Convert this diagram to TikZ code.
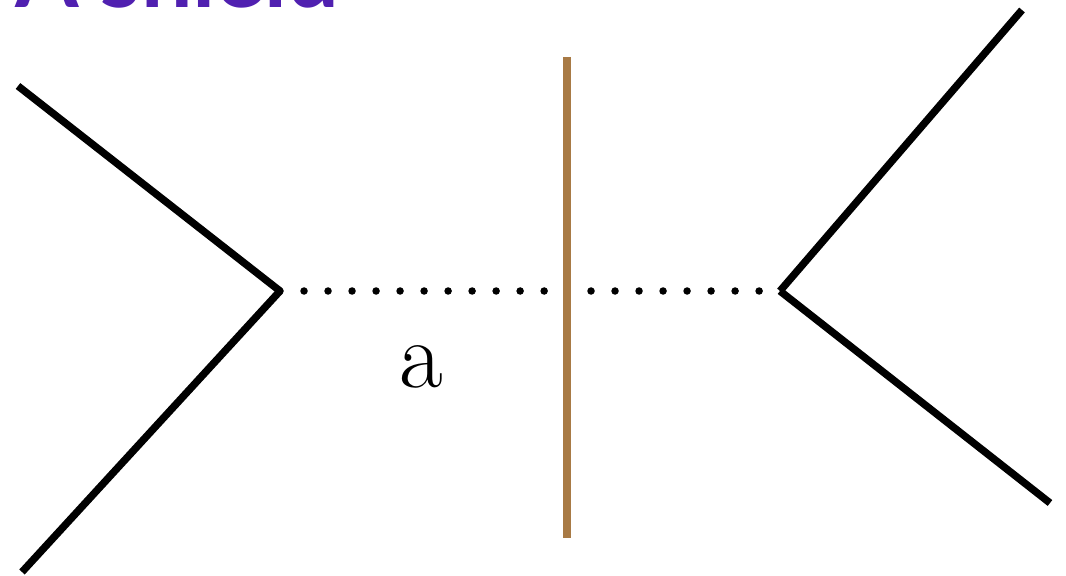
\documentclass[tikz,border=0pt]{standalone}
\usepackage{fontspec}
\newfontfamily\titlefont{Lato}
\begin{document}
\begin{tikzpicture}[x=0.01cm,y=-0.01cm,
  leg/.style={line width=0.074cm, black},
  wall/.style={line width=0.075cm, draw={rgb,255:red,168;green,122;blue,69}},
  dots/.style={line width=0.075cm, line cap=round, dash pattern=on 0pt off 0.24cm}]
\useasboundingbox (0,0) rectangle (1066,576);
\coordinate (L) at (280,291);
\coordinate (R) at (780,291);
\coordinate (LT) at (18,86);
\coordinate (LB) at (22,572);
\coordinate (RT) at (1022,10);
\coordinate (RB) at (1050,503);
\coordinate (WT) at (567,57);
\coordinate (WB) at (567,538);
\coordinate (WM) at (567,291);
\draw[leg] (LT) -- (L);
\draw[leg] (L) -- (LB);
\draw[leg] (RT) -- (R);
\draw[leg] (R) -- (RB);
\draw[dots] (L) -- (WM);
\draw[dots] (WM) -- (R);
\draw[wall] (WT) -- (WB);
\node[anchor=base, font=\fontsize{27}{32}\selectfont, inner sep=0pt] (a) at (421,387) {a};
\node[anchor=base east, text={rgb,255:red,80;green,32;blue,176}, font=\titlefont\bfseries\fontsize{26}{30}\selectfont, inner sep=0pt] (title) at (340,8) {A shield};
\end{tikzpicture}
\end{document}
